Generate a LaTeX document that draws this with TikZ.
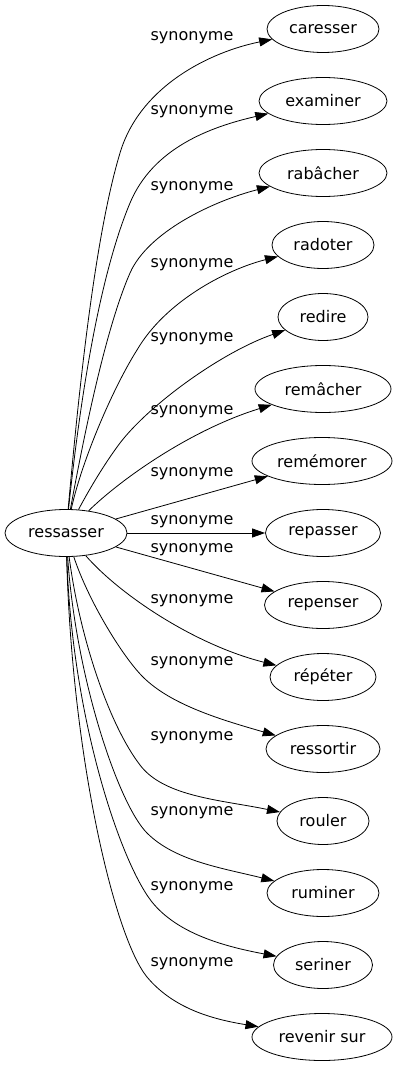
\documentclass[tikz,border=0pt]{standalone}
\usepackage{fontspec}
\setmainfont{DejaVu Sans}
\usetikzlibrary{arrows.meta}
\usetikzlibrary{shapes.geometric}

\begin{document}
\begin{tikzpicture}[
            x=1pt, y=-1pt, font=\fontsize{16}{19}\selectfont,
            word/.style={draw, ellipse, inner sep=0pt, minimum height=47pt, line width=0.8pt},
            syn/.style={-{Triangle[length=13pt, width=9pt]}, line width=0.8pt},
            synlabel/.style={inner sep=0pt}
        ]
            \useasboundingbox (0,0) rectangle (400,1067);

            % Palabra central
            \node[word, minimum width=122pt] (ressasser) at (66,533) {ressasser};

            % Sinonimos
            \node[word, minimum width=112pt] (caresser) at (323,29) {caresser};
            \node[word, minimum width=128pt] (examiner) at (323,101) {examiner};
            \node[word, minimum width=128pt] (rabacher) at (323,173) {rabâcher};
            \node[word, minimum width=102pt] (radoter) at (323,245) {radoter};
            \node[word, minimum width=90pt] (redire) at (323,317) {redire};
            \node[word, minimum width=136pt] (remacher) at (323,389) {remâcher};
            \node[word, minimum width=140pt] (rememorer) at (322,461) {remémorer};
            \node[word, minimum width=115pt] (repasser) at (323,533) {repasser};
            \node[word, minimum width=117pt] (repenser) at (323,605) {repenser};
            \node[word, minimum width=106pt] (repeter) at (323,677) {répéter};
            \node[word, minimum width=114pt] (ressortir) at (323,749) {ressortir};
            \node[word, minimum width=92pt] (rouler) at (323,821) {rouler};
            \node[word, minimum width=112pt] (ruminer) at (323,893) {ruminer};
            \node[word, minimum width=99pt] (seriner) at (323,965) {seriner};
            \node[word, minimum width=140pt] (revenir) at (322,1037) {revenir sur};

            % Etiquetas de las aristas
            \node[synlabel] (lcaresser) at (192,38) {synonyme};
            \node[synlabel] (lexaminer) at (192,112) {synonyme};
            \node[synlabel] (lrabacher) at (192,188) {synonyme};
            \node[synlabel] (lradoter) at (192,265) {synonyme};
            \node[synlabel] (lredire) at (192,339) {synonyme};
            \node[synlabel] (lremacher) at (192,412) {synonyme};
            \node[synlabel] (lrememorer) at (192,474) {synonyme};
            \node[synlabel] (lrepasser) at (192,522) {synonyme};
            \node[synlabel] (lrepenser) at (192,550) {synonyme};
            \node[synlabel] (lrepeter) at (192,601) {synonyme};
            \node[synlabel] (lressortir) at (192,663) {synonyme};
            \node[synlabel] (lrouler) at (192,738) {synonyme};
            \node[synlabel] (lruminer) at (192,813) {synonyme};
            \node[synlabel] (lseriner) at (192,888) {synonyme};
            \node[synlabel] (lrevenir) at (192,964) {synonyme};

            % Aristas hacia arriba
            \draw[syn] (ressasser) .. controls (78,400) and (94,239) .. (120,153)
                .. controls (140,86) and (210,52) .. (caresser);
            \draw[syn] (ressasser) .. controls (80,400) and (99,277) .. (130,203)
                .. controls (153,148) and (210,127) .. (examiner);
            \draw[syn] (ressasser) .. controls (85,430) and (106,328) .. (130,273)
                .. controls (148,232) and (213,201) .. (rabacher);
            \draw[syn] (ressasser) .. controls (82,460) and (113,388) .. (137,350)
                .. controls (165,302) and (225,270) .. (radoter);
            \draw[syn] (ressasser) .. controls (90,488) and (105,463) .. (120,443)
                .. controls (150,404) and (222,352) .. (redire);
            \draw[syn] (ressasser) .. controls (120,480) and (190,430) .. (remacher);

            % Aristas casi rectas
            \draw[syn] (ressasser) -- (rememorer);
            \draw[syn] (ressasser) -- (repasser);
            \draw[syn] (ressasser) -- (repenser);

            % Aristas hacia abajo
            \draw[syn] (ressasser) .. controls (120,595) and (195,645) .. (repeter);
            \draw[syn] (ressasser) .. controls (88,600) and (122,656) .. (143,677)
                .. controls (171,705) and (222,720) .. (ressortir);
            \draw[syn] (ressasser) .. controls (80,640) and (110,726) .. (140,765)
                .. controls (164,797) and (222,800) .. (rouler);
            \draw[syn] (ressasser) .. controls (76,680) and (119,805) .. (147,833)
                .. controls (175,861) and (222,868) .. (ruminer);
            \draw[syn] (ressasser) .. controls (72,720) and (121,863) .. (152,902)
                .. controls (177,933) and (222,946) .. (seriner);
            \draw[syn] (ressasser) .. controls (72,760) and (115,938) .. (147,977)
                .. controls (173,1008) and (211,1019) .. (revenir);

        \end{tikzpicture}
\end{document}
